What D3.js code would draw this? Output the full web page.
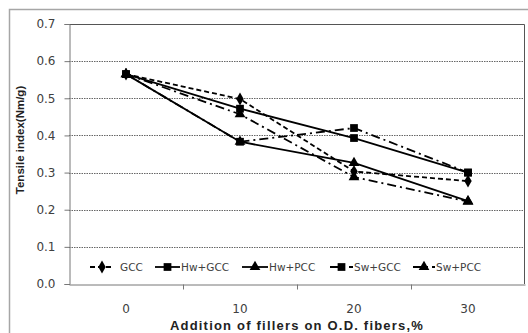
<!DOCTYPE html>
<html>
<head>
<meta charset="utf-8">
<script src="https://cdn.jsdelivr.net/npm/d3@7"></script>
<style>
  body { margin: 0; background: #fff; }
  svg { display: block; }
</style>
</head>
<body>
<div id="chart"></div>
<script>
// values
const categories = ['0', '10', '20', '30'];
const yTicks = [0, 0.1, 0.2, 0.3, 0.4, 0.5, 0.6, 0.7];
const seriesNames = ['GCC', 'Hw+GCC', 'Hw+PCC', 'Sw+GCC', 'Sw+PCC'];
const gcc = [0.565, 0.498, 0.303, 0.277];
const hwGcc = [0.565, 0.472, 0.393, 0.300];
const hwPcc = [0.565, 0.383, 0.326, 0.223];
const swGcc = [0.565, 0.383, 0.420, 0.300];
const swPcc = [0.565, 0.457, 0.288, 0.222];

const W = 528, H = 333;
const margin = { top: 24, right: 3, bottom: 49, left: 69 };

const series = [
  { name: seriesNames[0], values: gcc, dash: '5,3', marker: d3.symbolDiamond, size: 48 },
  { name: seriesNames[1], values: hwGcc, dash: null, marker: d3.symbolSquare, size: 60 },
  { name: seriesNames[2], values: hwPcc, dash: null, marker: d3.symbolTriangle, size: 50 },
  { name: seriesNames[3], values: swGcc, dash: '9,4,2,4', marker: d3.symbolSquare, size: 60 },
  { name: seriesNames[4], values: swPcc, dash: '9,4,2,4', marker: d3.symbolTriangle, size: 50 }
];

const svg = d3.select('#chart').append('svg')
  .attr('width', W)
  .attr('height', H);

// outer chart frame
svg.append('rect')
  .attr('x', 9.5).attr('y', 9.5)
  .attr('width', W + 20).attr('height', H + 20)
  .attr('fill', 'none')
  .attr('stroke', '#a6a6a6')
  .attr('stroke-width', 1.5);

const x = d3.scaleBand()
  .domain(categories)
  .range([margin.left, W - margin.right]);

const y = d3.scaleLinear()
  .domain([0, 0.7])
  .range([H - margin.bottom, margin.top]);

// gridlines
svg.append('g')
  .selectAll('line')
  .data(yTicks.filter(t => t > 0 && t < 0.7))
  .enter()
  .append('line')
  .attr('x1', margin.left).attr('x2', W - margin.right)
  .attr('y1', d => Math.round(y(d)) + 0.5).attr('y2', d => Math.round(y(d)) + 0.5)
  .attr('stroke', '#666')
  .attr('stroke-width', 1)
  .attr('stroke-dasharray', '1.5,1');

// plot frame (top and right)
svg.append('path')
  .attr('d', `M${margin.left},${margin.top + 0.5}H${W - margin.right - 0.5}V${H - margin.bottom}`)
  .attr('fill', 'none')
  .attr('stroke', '#555')
  .attr('stroke-width', 1);

// y axis
const yAxis = svg.append('g')
  .attr('transform', `translate(${margin.left + 0.5},0)`)
  .call(d3.axisLeft(y).tickValues(yTicks).tickFormat(d3.format('.1f')).tickSize(5).tickPadding(9));
yAxis.select('.domain').attr('stroke', '#777');
yAxis.selectAll('.tick line').attr('stroke', '#777');
yAxis.selectAll('text')
  .attr('fill', '#404040')
  .style('font-family', 'DejaVu Sans, sans-serif')
  .style('font-size', '12px');

// x axis: labels at band centres, ticks at band edges
const xAxis = svg.append('g')
  .attr('transform', `translate(0,${H - margin.bottom + 0.5})`)
  .call(d3.axisBottom(x).tickSize(0).tickPadding(20));
xAxis.select('.domain').attr('stroke', '#777');
xAxis.selectAll('text')
  .attr('fill', '#404040')
  .style('font-family', 'DejaVu Sans, sans-serif')
  .style('font-size', '12px');
xAxis.selectAll('.edge')
  .data(categories.slice(1))
  .enter()
  .append('line')
  .attr('x1', d => Math.round(x(d)) + 0.5).attr('x2', d => Math.round(x(d)) + 0.5)
  .attr('y1', 0).attr('y2', 5)
  .attr('stroke', '#777');

// axis titles
svg.append('text')
  .attr('x', (margin.left + W - margin.right) / 2)
  .attr('y', 330)
  .attr('text-anchor', 'middle')
  .attr('fill', '#222')
  .style('font-family', 'Liberation Sans, Arial, sans-serif')
  .style('font-weight', 'bold')
  .style('font-size', '13px')
  .style('letter-spacing', '1.2px')
  .text('Addition of fillers on O.D. fibers,%');

svg.append('text')
  .attr('transform', 'translate(24,140) rotate(-90)')
  .attr('text-anchor', 'middle')
  .attr('fill', '#222')
  .style('font-family', 'Liberation Sans, Arial, sans-serif')
  .style('font-weight', 'bold')
  .style('font-size', '11.5px')
  .text('Tensile index(Nm/g)');

// lines and markers
const line = d3.line()
  .x((d, i) => x(categories[i]) + x.bandwidth() / 2)
  .y(d => y(d));

series.forEach(s => {
  svg.append('path')
    .datum(s.values)
    .attr('d', line)
    .attr('fill', 'none')
    .attr('stroke', '#000')
    .attr('stroke-width', 1.8)
    .attr('stroke-dasharray', s.dash);
});

series.forEach(s => {
  svg.append('g')
    .selectAll('path')
    .data(s.values)
    .enter()
    .append('path')
    .attr('d', d3.symbol().type(s.marker).size(s.size))
    .attr('transform', (d, i) => `translate(${x(categories[i]) + x.bandwidth() / 2},${y(d)})`)
    .attr('fill', '#000');
});

// legend
const legendY = 267;
const legendX = [90, 155, 242, 330, 413];
const legendLen = [24, 25, 26, 23, 22];
const legend = svg.append('g');
series.forEach((s, i) => {
  const g = legend.append('g').attr('transform', `translate(${legendX[i]},${legendY})`);
  g.append('line')
    .attr('x1', 0).attr('x2', legendLen[i])
    .attr('y1', 0).attr('y2', 0)
    .attr('stroke', '#000')
    .attr('stroke-width', 1.8)
    .attr('stroke-dasharray', s.dash);
  g.append('path')
    .attr('d', d3.symbol().type(s.marker).size(s.size))
    .attr('transform', `translate(${legendLen[i] / 2},0)`)
    .attr('fill', '#000');
  g.append('text')
    .attr('x', legendLen[i] + (i === 0 ? 6 : 1))
    .attr('y', 4)
    .attr('fill', '#404040')
    .style('font-family', 'DejaVu Sans, sans-serif')
    .style('font-size', '10.5px')
    .text(s.name);
});
</script>
</body>
</html>
